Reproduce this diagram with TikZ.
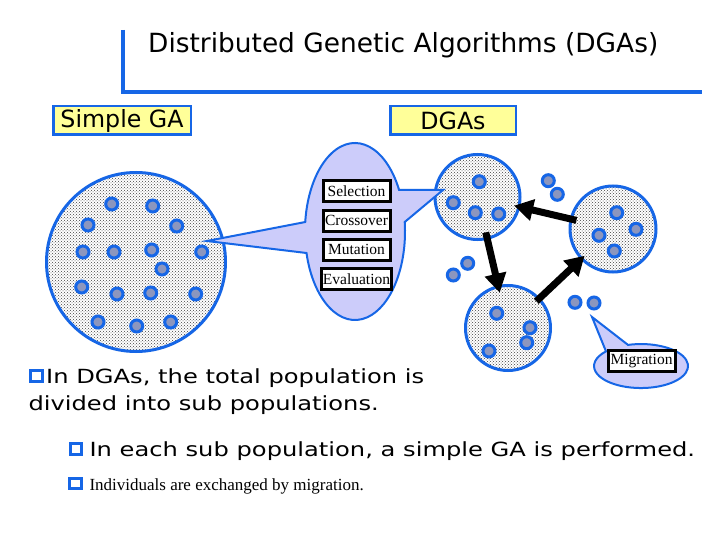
\documentclass[tikz,border=0pt]{standalone}
\usepackage{fontspec}
\setmainfont{Liberation Serif}
\setsansfont{DejaVu Sans}
\newfontfamily\widesans[FakeStretch=1.24]{DejaVu Sans}
\usepackage{xcolor}
\usetikzlibrary{arrows.meta,patterns,calc,positioning}

\definecolor{popblue}{RGB}{22,102,230}
\definecolor{callfill}{RGB}{204,204,250}
\definecolor{labelfill}{RGB}{255,255,153}
\definecolor{indfill}{RGB}{140,150,190}

\begin{document}
\begin{tikzpicture}[x=1pt,y=-1pt,
    pop/.style={circle,draw=popblue,line width=3pt,pattern=crosshatch dots,
      pattern color=black!75,inner sep=0pt},
    ind/.style={circle,draw=popblue,line width=3pt,fill=indfill,
      minimum size=12pt,inner sep=0pt},
    gabox/.style={draw=popblue,line width=2.5pt,fill=labelfill,minimum height=28.5pt,
      inner sep=0pt,font=\sffamily\fontsize{23.7}{28}\selectfont},
    opbox/.style={draw=black,line width=3pt,fill=white,minimum width=67pt,
      minimum height=21pt,inner sep=1pt,font=\rmfamily\fontsize{15.5}{17}\selectfont},
    bsq/.style={draw=popblue,line width=3pt,fill=white,minimum width=11.5pt,
      minimum height=10.5pt,inner sep=0pt},
    callout/.style={draw=popblue,line width=2pt,fill=callfill},
    migrate/.style={line width=7pt,-{Triangle[length=19pt,width=21pt]}},
    bodytext/.style={anchor=base west,inner sep=0pt,font=\widesans\fontsize{19.5}{23}\selectfont}]
  \fill[white] (0,0) rectangle (720,540);
  \useasboundingbox (0,0) rectangle (720,540);
  \pgfmathsetmacro{\Rbig}{179}
  \pgfmathsetmacro{\Rsub}{85}

  % title and bracket
  \draw[popblue,line width=4pt] (123,30) -- (123,92.5) -- (702,92.5);
  \node[anchor=base west,inner sep=0pt,font=\sffamily\fontsize{26.4}{30}\selectfont]
    (title) at (148,53) {Distributed Genetic Algorithms (DGAs)};

  \node[gabox,minimum width=137.5pt] (simplega) at (122,120.5) {Simple GA};
  \node[gabox,minimum width=125.5pt] (dgas) at (453,120.5) {DGAs};

  % whole population
  \node[pop,minimum size=\Rbig] (whole) at (136,262) {};
  \foreach \px/\py [count=\k] in {111.7/204,152.7/206,88/225,176.7/226,83/252,
      114/252,151.7/250,201.7/252,162/269,81.7/287,117/294,150.7/293,195.7/294,
      98/322,136.7/326,170.7/322}
    \node[ind] (w\k) at (\px,\py) {};

  % sub populations
  \node[pop,minimum size=\Rsub] (popA) at (477.5,197) {};
  \node[pop,minimum size=\Rsub+1] (popB) at (613,229) {};
  \node[pop,minimum size=\Rsub] (popC) at (508,328) {};
  \foreach \px/\py [count=\k] in {479.3/181.7,453.3/202.7,475.3/212.7,498.7/214,
      616.7/212.7,636/229.3,599/235.3,614.3/251,
      496.7/313.3,530/327.7,526.7/342.7,489/351}
    \node[ind] (s\k) at (\px,\py) {};

  % migrating individuals
  \foreach \px/\py [count=\k] in {548.3/180.7,557.3/194.3,467.7/263.3,453.3/275,
      575/302.3,594/303}
    \node[ind] (m\k) at (\px,\py) {};

  % GA operators callout
  \draw[callout] (207,241) -- (306.5,253)
    arc[start angle=165.94,end angle=-6.15,x radius=50,y radius=88.5]
    -- (443,190) -- (399.1,190)
    arc[start angle=-27.97,end angle=-173.85,x radius=50,y radius=88.5] -- cycle;
  \node[opbox] (sel) at (356.5,191.3) {Selection};
  \node[opbox,below=5.3pt of sel] (cro) {Crossover};
  \node[opbox,below=5.3pt of cro] (mut) {Mutation};
  \node[opbox,below=5.3pt of mut] (eva) {Evaluation};

  % migration
  \draw[migrate] ($(popB)!0.27!(popA)$) -- ($(popB)!0.73!(popA)$);
  \draw[migrate] ($(popA)!0.27!(popC)$) -- ($(popA)!0.73!(popC)$);
  \draw[migrate] ($(popC)!0.27!(popB)$) -- ($(popC)!0.73!(popB)$);

  \draw[callout] (592,317) -- (628,344.9)
    arc[start angle=-106.1,end angle=221.8,x radius=47,y radius=22] -- cycle;
  \node[opbox] (mig) at (641.5,361.4) {Migration};

  % bullets
  \node[bsq] (b1) at (36.5,376) {};
  \node[bodytext] (line1) at (46,383.3) {In DGAs, the total population is};
  \node[bodytext] (line1b) at (28.3,410) {divided into sub populations.};
  \node[bsq] (b2) at (76,449) {};
  \node[bodytext] (line2) at (89.3,456.7) {In each sub population, a simple GA is performed.};
  \node[bsq] (b3) at (75.5,483.5) {};
  \node[anchor=base west,inner sep=0pt,font=\rmfamily\fontsize{17}{20}\selectfont]
    (line3) at (89.3,490.5) {Individuals are exchanged by migration.};
\end{tikzpicture}
\end{document}
